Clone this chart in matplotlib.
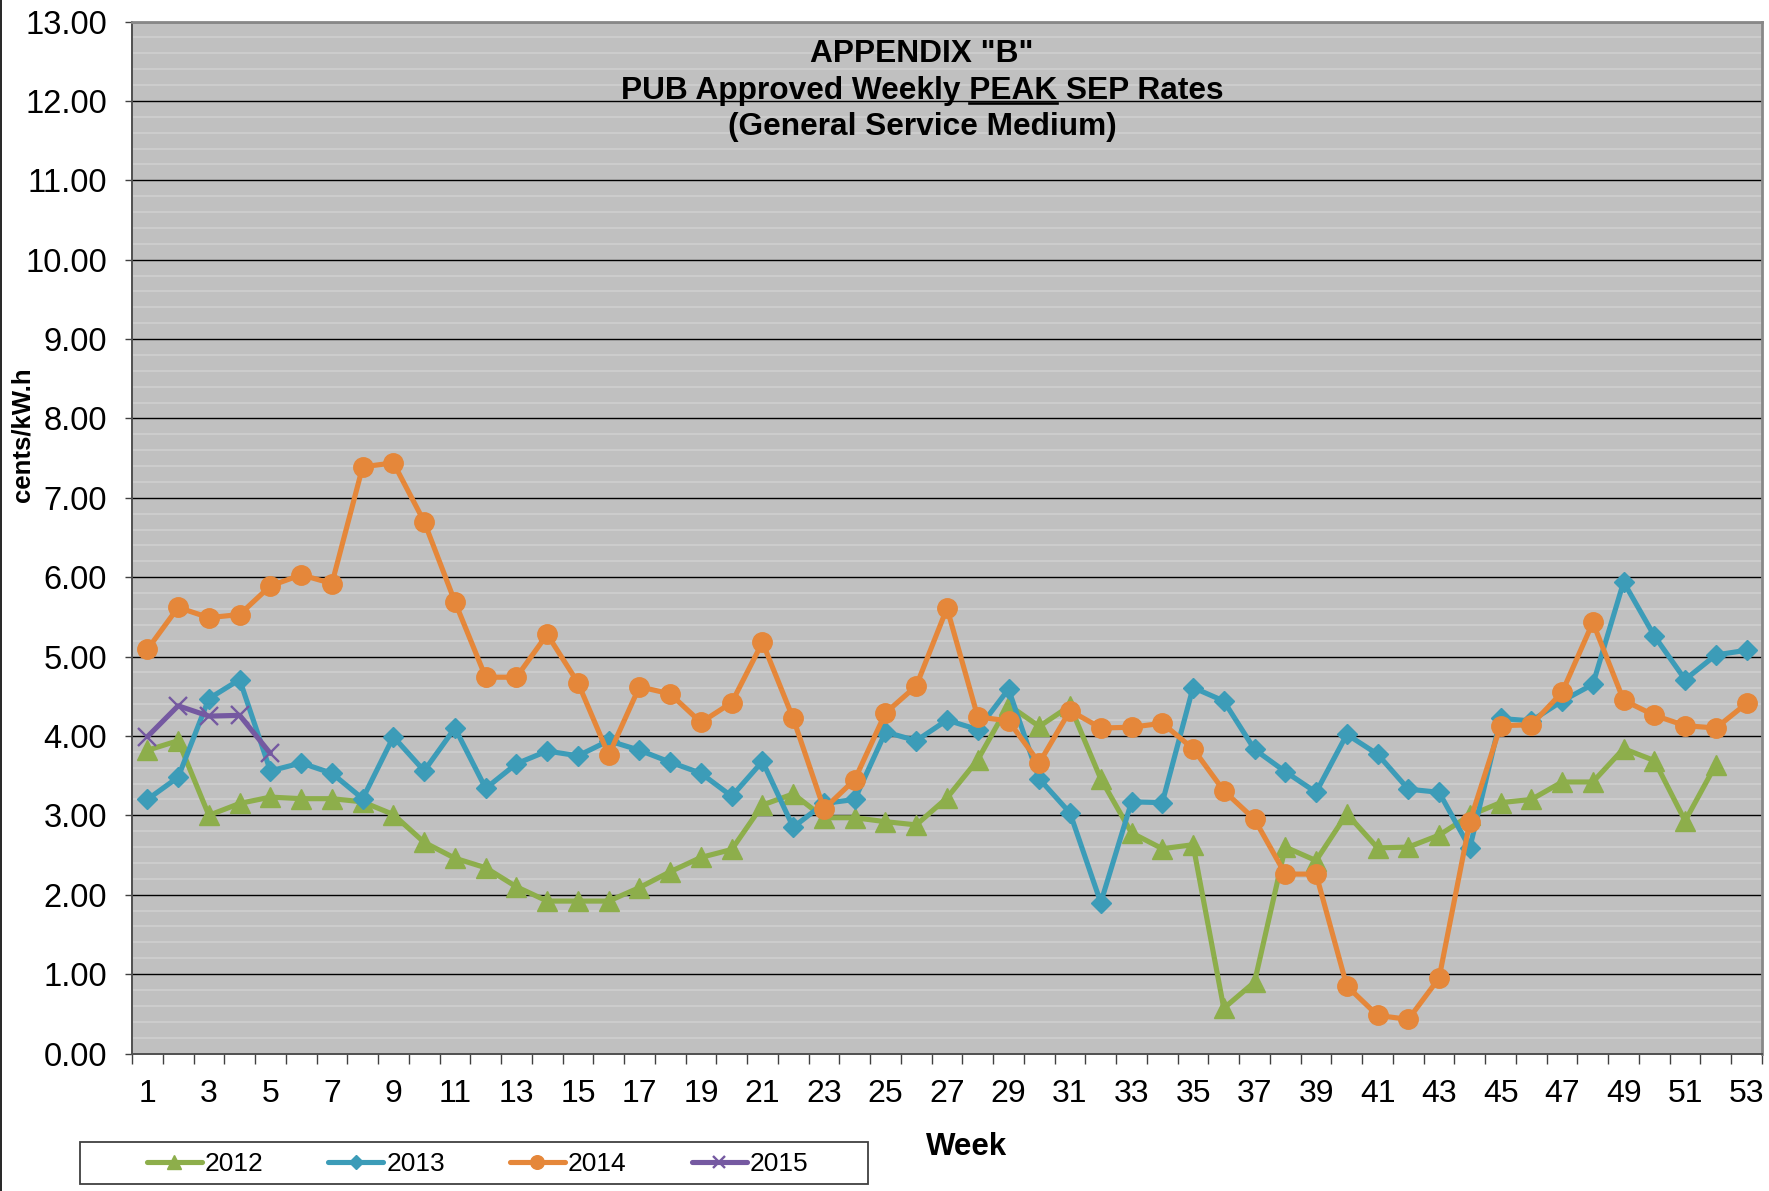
import numpy as np
import matplotlib
matplotlib.use("Agg")
import matplotlib.pyplot as plt
from matplotlib.lines import Line2D
from matplotlib.patches import Rectangle
from matplotlib.ticker import FixedLocator, NullFormatter

plt.rcParams['font.family'] = ['Liberation Sans', 'DejaVu Sans']

# ---------------- data ----------------
weeks = list(range(1, 54))
week_labels = [str(w) for w in range(1, 54, 2)]
series_names = ["2012", "2013", "2014", "2015"]

rates_2012 = [3.82, 3.94, 3.00, 3.15, 3.23, 3.21, 3.21, 3.17, 3.01, 2.66,
              2.46, 2.34, 2.10, 1.92, 1.92, 1.92, 2.09, 2.29, 2.47, 2.57,
              3.13, 3.27, 2.97, 2.97, 2.92, 2.88, 3.22, 3.70, 4.39, 4.12,
              4.38, 3.46, 2.78, 2.58, 2.63, 0.57, 0.90, 2.60, 2.43, 3.02,
              2.59, 2.60, 2.75, 3.00, 3.16, 3.20, 3.42, 3.42, 3.84, 3.69,
              2.93, 3.64]
rates_2013 = [3.20, 3.48, 4.47, 4.71, 3.56, 3.66, 3.53, 3.21, 3.99, 3.56,
              4.10, 3.34, 3.65, 3.81, 3.75, 3.94, 3.82, 3.67, 3.53, 3.24,
              3.68, 2.85, 3.15, 3.20, 4.05, 3.94, 4.20, 4.08, 4.59, 3.46,
              3.03, 1.90, 3.17, 3.16, 4.61, 4.44, 3.83, 3.55, 3.29, 4.02,
              3.77, 3.33, 3.29, 2.59, 4.22, 4.19, 4.44, 4.65, 5.94, 5.26,
              4.71, 5.02, 5.08]
rates_2014 = [5.09, 5.62, 5.49, 5.53, 5.89, 6.03, 5.92, 7.39, 7.44, 6.70,
              5.69, 4.74, 4.74, 5.28, 4.67, 3.76, 4.62, 4.53, 4.17, 4.42,
              5.18, 4.22, 3.08, 3.45, 4.29, 4.63, 5.61, 4.24, 4.19, 3.66,
              4.32, 4.10, 4.11, 4.16, 3.84, 3.31, 2.95, 2.26, 2.26, 0.85,
              0.48, 0.43, 0.95, 2.92, 4.13, 4.14, 4.55, 5.43, 4.45, 4.26,
              4.13, 4.10, 4.41]
rates_2015 = [3.99, 4.38, 4.25, 4.26, 3.78]

# ---------------- layout helpers ----------------
W, H = 1769, 1191
def fx(px):
    return px / W
def fy(py):
    return 1 - py / H

fig = plt.figure(figsize=(W / 100, H / 100), dpi=100)
ax = fig.add_axes([fx(132), fy(1053.5), fx(1762) - fx(132), fy(21.5) - fy(1053.5)])
ax.set_facecolor('#c0c0c0')

colors = ['#8DAE4B', '#3C9CB8', '#E5873A', '#7559A1']
markers = ['^', 'D', 'o', 'x']
msizes = [14.5, 10.5, 14, 13]
all_series = [rates_2012, rates_2013, rates_2014, rates_2015]

handles = []
for name, vals, c, m, ms in zip(series_names, all_series, colors, markers, msizes):
    x = weeks[:len(vals)]
    kw = dict(color=c, lw=3.7, marker=m, markersize=ms, markerfacecolor=c,
              markeredgecolor=c, solid_capstyle='round', label=name, zorder=3)
    if m == 'x':
        kw['markeredgewidth'] = 1.7
    h, = ax.plot(x, vals, **kw)
    handles.append(h)

ax.set_xlim(0.5, 53.5)
ax.set_ylim(0, 13)

# y axis
ax.set_yticks(np.arange(0, 14, 1))
ax.set_yticklabels([f"{v:.2f}" for v in range(0, 14)])
ax.yaxis.set_minor_locator(FixedLocator(np.arange(0, 13.01, 0.2)))
ax.grid(which='minor', axis='y', color='#cdcdcd', lw=1.4, zorder=0)
ax.grid(which='major', axis='y', color='#000000', lw=1.0, zorder=1)
ax.set_axisbelow(True)

# x axis: labels at odd weeks, tick marks between categories
ax.set_xticks(range(1, 54, 2))
ax.set_xticklabels(week_labels)
ax.xaxis.set_minor_locator(FixedLocator(np.arange(0.5, 54, 1)))
ax.xaxis.set_minor_formatter(NullFormatter())
ax.tick_params(axis='x', which='major', length=0, pad=18.5, labelsize=23, colors='black')
ax.tick_params(axis='x', which='minor', length=7.2, width=1.0, direction='out', color='#404040')
ax.tick_params(axis='y', which='major', length=5, width=1.0, direction='out', color='#404040',
               pad=13, labelsize=23.5)
ax.tick_params(axis='y', which='minor', length=0)

for s in ['left', 'bottom']:
    ax.spines[s].set_color('#505050')
    ax.spines[s].set_linewidth(1.4)
for s in ['top', 'right']:
    ax.spines[s].set_color('#888888')
    ax.spines[s].set_linewidth(2.0)

# axis labels
fig.text(fx(22.5), fy(435), "cents/kW.h", rotation=90, ha='center', va='center',
         fontsize=18.5, fontweight='bold')
fig.text(fx(967), fy(1147), "Week", ha='center', va='center', fontsize=22.5, fontweight='bold')

# title
tx = fx(922)
title_kw = dict(ha='center', va='baseline', fontsize=22.8, fontweight='bold')
fig.text(tx, fy(62), 'APPENDIX "B"', **title_kw)
line2 = "PUB Approved Weekly PEAK SEP Rates"
t2 = fig.text(tx, fy(98.5), line2, **title_kw)
fig.text(tx, fy(135), "(General Service Medium)", **title_kw)

fig.canvas.draw()
r = fig.canvas.get_renderer()
def width_px(s):
    t = fig.text(0, 0, s, **title_kw)
    w = t.get_window_extent(r).width
    t.remove()
    return w
full_w = t2.get_window_extent(r).width
w_pre = width_px("PUB Approved Weekly PEAK")
w_peak = width_px("PEAK")
left_px = tx * W - full_w / 2
x_end = left_px + w_pre
x_start = x_end - w_peak
fig.add_artist(Line2D([x_start / W, x_end / W], [fy(103), fy(103)], transform=fig.transFigure,
                      color='black', lw=1.9))

# legend
leg = fig.legend(handles=handles, labels=series_names, loc='center',
                 bbox_to_anchor=(fx(477.5), fy(1164)), ncol=4, frameon=False,
                 fontsize=19, handlelength=2.08, handletextpad=0.12, columnspacing=2.46,
                 borderpad=0, markerscale=0.7)
fig.add_artist(Rectangle((fx(80), fy(1184)), fx(868) - fx(80), fy(1142) - fy(1184),
                         transform=fig.transFigure, fill=False, edgecolor='#404040', lw=1.3))

# left figure border
fig.add_artist(Line2D([fx(0.7), fx(0.7)], [0, 1], transform=fig.transFigure, color='black', lw=1.2))

fig.savefig("out.png", dpi=100)
